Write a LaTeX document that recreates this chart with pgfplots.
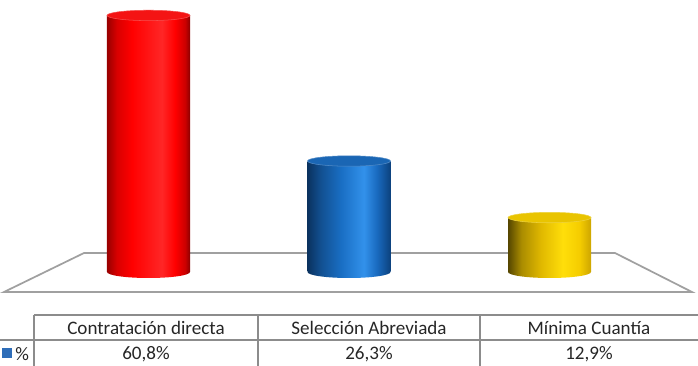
\documentclass[border=0pt]{standalone}
\usepackage{fontspec}
\setmainfont{Carlito}
\usepackage{pgfplots}
\pgfplotsset{compat=1.18}

\definecolor{gridgray}{HTML}{A0A0A0}
\definecolor{tabgray}{HTML}{8C8C8C}
\definecolor{redtop}{HTML}{F41414}
\definecolor{bluetop}{HTML}{1A66B4}
\definecolor{yeltop}{HTML}{E9C400}
\definecolor{legblue}{HTML}{2E6DB8}
\definecolor{txt}{HTML}{262626}

\pgfdeclarehorizontalshading{redcyl}{100bp}{
  color(0bp)=(red!60!black); color(25bp)=(red!60!black); color(31bp)=(red!85!black);
  color(40bp)=(red); color(58bp)=(red!85!white); color(66bp)=(red);
  color(72bp)=(red!80!black); color(75bp)=(red!55!black); color(100bp)=(red!55!black)}
\pgfdeclarehorizontalshading{bluecyl}{100bp}{
  color(0bp)=(rgb,255:red,10;green,50;blue,95); color(25bp)=(rgb,255:red,10;green,50;blue,95);
  color(33bp)=(rgb,255:red,18;green,80;blue,145);
  color(45bp)=(rgb,255:red,25;green,110;blue,195); color(59bp)=(rgb,255:red,50;green,145;blue,235);
  color(67bp)=(rgb,255:red,25;green,105;blue,190);
  color(75bp)=(rgb,255:red,12;green,65;blue,125); color(100bp)=(rgb,255:red,12;green,65;blue,125)}
\pgfdeclarehorizontalshading{yelcyl}{100bp}{
  color(0bp)=(rgb,255:red,85;green,70;blue,0); color(25bp)=(rgb,255:red,85;green,70;blue,0);
  color(33bp)=(rgb,255:red,170;green,140;blue,0);
  color(45bp)=(rgb,255:red,225;green,185;blue,0); color(58bp)=(rgb,255:red,255;green,222;blue,10);
  color(68bp)=(rgb,255:red,245;green,205;blue,0);
  color(75bp)=(rgb,255:red,205;green,165;blue,0); color(100bp)=(rgb,255:red,205;green,165;blue,0)}

\newcommand\cylshade{redcyl}
\newcommand\cyltop{redtop}
\pgfdeclareplotmark{cylbot}{%
  \pgfpathellipse{\pgfpointorigin}{\pgfpoint{31.1pt}{0pt}}{\pgfpoint{0pt}{4.5pt}}%
  \pgfshadepath{\cylshade}{0}%
  \pgfusepath{discard}}
\pgfdeclareplotmark{cyltop}{\path[fill=\cyltop, draw=\cyltop!75!white, line width=0.4pt] (0pt,0pt) ellipse [x radius=31.1pt, y radius=3.9pt];}

\begin{document}
\begin{tikzpicture}[x=0.75pt, y=0.75pt]
\path[use as bounding box] (0,0) rectangle (698,366);
% floor
\draw[gridgray, line width=1.3pt, fill=white] (84,113) -- (615,113) -- (692,74) -- (4,74) -- cycle;

\begin{axis}[
  at={(36.1875pt,70.5pt)}, anchor=south west,
  scale only axis, width=451.125pt, height=205.725pt,
  xmin=-0.5, xmax=2.5, ymin=0, ymax=65,
  hide axis, clip=false,
]
\def\cylshade{redcyl}\def\cyltop{redtop}
\addplot[only marks, mark=cylbot, draw=none] coordinates {(0,0)};
\addplot[ybar, bar width=0.414, bar shift=0pt, draw=none, shading=redcyl] coordinates {(0,60.8)};
\addplot[only marks, mark=cyltop] coordinates {(0,60.8)};
\end{axis}

\begin{axis}[
  at={(36.1875pt,70.5pt)}, anchor=south west,
  scale only axis, width=451.125pt, height=205.725pt,
  xmin=-0.5, xmax=2.5, ymin=0, ymax=65,
  hide axis, clip=false,
]
\def\cylshade{bluecyl}\def\cyltop{bluetop}
\addplot[only marks, mark=cylbot, draw=none] coordinates {(1,0)};
\addplot[ybar, bar width=0.414, bar shift=0pt, draw=none, shading=bluecyl] coordinates {(1,26.3)};
\addplot[only marks, mark=cyltop] coordinates {(1,26.3)};
\end{axis}

\begin{axis}[
  at={(36.1875pt,70.5pt)}, anchor=south west,
  scale only axis, width=451.125pt, height=205.725pt,
  xmin=-0.5, xmax=2.5, ymin=0, ymax=65,
  hide axis, clip=false,
]
\def\cylshade{yelcyl}\def\cyltop{yeltop}
\addplot[only marks, mark=cylbot, draw=none] coordinates {(2,0)};
\addplot[ybar, bar width=0.414, bar shift=0pt, draw=none, shading=yelcyl] coordinates {(2,12.9)};
\addplot[only marks, mark=cyltop] coordinates {(2,12.9)};
\end{axis}

% data table
\draw[tabgray, line width=1pt] (34,51) -- (698,51);
\draw[tabgray, line width=1pt] (0,26) -- (698,26);
\draw[tabgray, line width=1pt] (34,51) -- (34,0);
\draw[tabgray, line width=1pt] (258,51) -- (258,0);
\draw[tabgray, line width=1pt] (480,51) -- (480,0);
\fill[legblue] (2,8) rectangle (12,18);
\node[font=\fontsize{14.3}{16}\selectfont, text=txt, anchor=west, inner sep=0pt] at (15,12) {\%};
\begin{scope}[every node/.style={font=\fontsize{14.3}{16}\selectfont, text=txt, inner sep=0pt}]
\node at (146,38) {Contratación directa};
\node at (369,38) {Selección Abreviada};
\node at (589,38) {Mínima Cuantía};
\node at (146,11.5) {60,8\%};
\node at (369,11.5) {26,3\%};
\node at (589,11.5) {12,9\%};
\end{scope}
\end{tikzpicture}
\end{document}
